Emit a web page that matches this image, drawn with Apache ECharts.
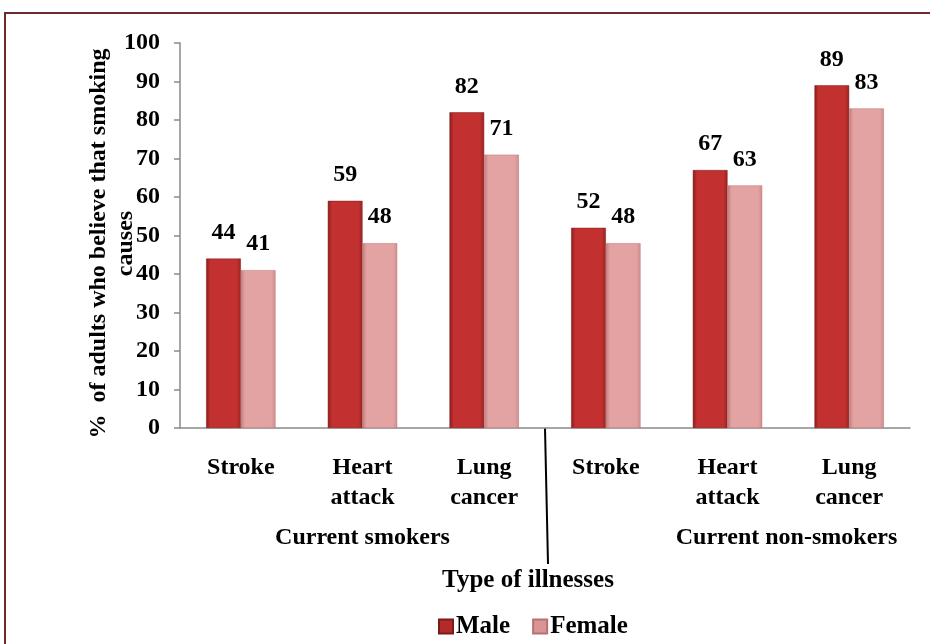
<!DOCTYPE html>
<html>
<head>
<meta charset="utf-8">
<script src="https://cdn.jsdelivr.net/npm/echarts@6/dist/echarts.min.js"></script>
<style>
html,body{margin:0;padding:0;background:#fff;}
#c{width:930px;height:644px;}
</style>
</head>
<body>
<div id="c"></div>
<script>
const categories = ['Stroke', 'Heart\nattack', 'Lung\ncancer', 'Stroke', 'Heart\nattack', 'Lung\ncancer'];
const groups = ['Current smokers', 'Current non-smokers'];
const maleValues = [44, 59, 82, 52, 67, 89];
const femaleValues = [41, 48, 71, 48, 63, 83];
const yTicks = { min: 0, max: 100, interval: 10 };

const FONT = '"Liberation Serif", "Times New Roman", serif';
const chart = echarts.init(document.getElementById('c'), null, { renderer: 'canvas' });

function grad(edge, mid, edge2) {
  return new echarts.graphic.LinearGradient(0, 0, 1, 0, [
    { offset: 0, color: edge },
    { offset: 0.12, color: mid },
    { offset: 0.88, color: mid },
    { offset: 1, color: edge2 }
  ]);
}

const txt = { fontFamily: FONT, fontWeight: 'bold', fontSize: 24, color: '#000' };

chart.setOption({
  animation: false,
  backgroundColor: '#fff',
  grid: { left: 180, right: 20, top: 43, bottom: 216, containLabel: false },
  legend: {
    top: 609, left: 433,
    itemWidth: 14, itemHeight: 14, itemGap: 22,
    icon: 'rect',
    textStyle: Object.assign({}, txt, { fontSize: 25, padding: [0, 0, 0, -2] }),
    data: [
      { name: 'Male', itemStyle: { color: '#b22a2a' } },
      { name: 'Female', itemStyle: { color: '#d99595' } }
    ]
  },
  xAxis: [{
    type: 'category',
    data: categories,
    axisLine: { lineStyle: { color: '#8a8a8a', width: 1.5 } },
    axisTick: { length: 6, lineStyle: { color: '#8a8a8a', width: 1.5 } },
    axisLabel: Object.assign({}, txt, { interval: 0, margin: 25, lineHeight: 30, verticalAlign: 'top' }),
    name: 'Type of illnesses',
    nameLocation: 'middle',
    nameGap: 140,
    nameMoveOverlap: false,
    nameTextStyle: Object.assign({}, txt, { fontSize: 25, padding: [0, 34, 0, 0] })
  }, {
    type: 'category',
    position: 'bottom',
    data: [groups[0], { value: groups[1], textStyle: { padding: [0, 0, 0, 118] } }],
    axisLine: { show: false },
    axisTick: { show: false },
    axisLabel: Object.assign({}, txt, { interval: 0, margin: 98, verticalAlign: 'top' })
  }],
  yAxis: {
    type: 'value',
    min: yTicks.min, max: yTicks.max, interval: yTicks.interval,
    splitLine: { show: false },
    axisLine: { show: true, lineStyle: { color: '#8a8a8a', width: 1.5 } },
    axisTick: { show: true, length: 6, lineStyle: { color: '#8a8a8a', width: 1.5 } },
    axisLabel: Object.assign({}, txt, { fontSize: 24, margin: 20 }),
    name: '%  of adults who believe that smoking\ncauses',
    nameLocation: 'middle',
    nameRotate: 90,
    nameGap: 41,
    nameMoveOverlap: false,
    nameTextStyle: Object.assign({}, txt, { fontSize: 24, lineHeight: 27, align: 'center', padding: [0, 16, 0, 0] })
  },
  series: [{
    name: 'Male',
    type: 'bar',
    data: maleValues,
    barGap: '0%',
    barCategoryGap: '43%',
    itemStyle: { color: grad('#8c1c1c', '#c2312f', '#9a2323'), borderColor: '#7a1a1a', borderWidth: 0.5 },
    label: { show: true, position: 'top', distance: 14, ...txt }
  }, {
    name: 'Female',
    type: 'bar',
    data: femaleValues,
    itemStyle: { color: grad('#c27a7a', '#e4a3a3', '#cf8d8d'), borderColor: '#b87070', borderWidth: 0.5 },
    label: { show: true, position: 'top', distance: 14, ...txt }
  }]
});

// decorations: frame border and group separator line, computed from the axis
const c2 = chart.convertToPixel({ xAxisIndex: 0 }, 2);
const c3 = chart.convertToPixel({ xAxisIndex: 0 }, 3);
const sepX = (c2 + c3) / 2;
const baseY = chart.convertToPixel({ yAxisIndex: 0 }, 0);
chart.setOption({
  graphic: [
    { type: 'rect', shape: { x: 5, y: 13, width: 940, height: 660 }, style: { fill: 'none', stroke: '#6e2a2a', lineWidth: 2 }, silent: true },
    { type: 'line', shape: { x1: sepX, y1: baseY, x2: sepX + 3, y2: baseY + 136 }, style: { stroke: '#000', lineWidth: 2 }, silent: true }
  ]
});
</script>
</body>
</html>
